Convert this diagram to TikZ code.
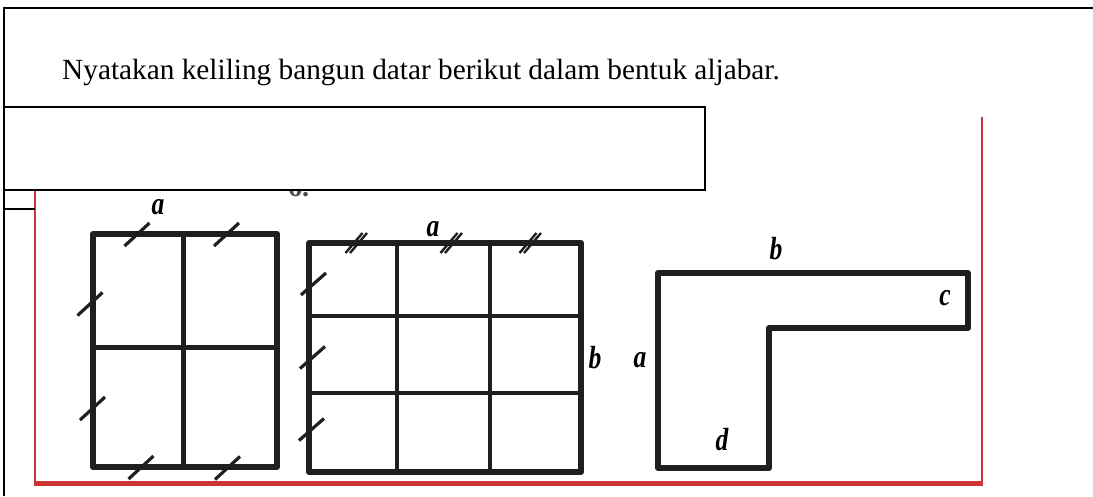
\documentclass[tikz,border=0pt]{standalone}
\usepackage{fontspec}
\setmainfont{Liberation Serif}
\definecolor{redc}{RGB}{205,52,52}
\begin{document}
\begin{tikzpicture}[x=1pt,y=-1pt,
  frame/.style={line width=2.2pt,black},
  redline/.style={line width=2.6pt,draw=redc},
  outline/.style={line width=6pt,line join=round,black!88},
  gridline/.style={line width=5pt,black!88},
  thingrid/.style={line width=3.2pt,black!88},
  tickmark/.style={line width=3.2pt,black!88},
  dtick/.style={line width=2.4pt,black!88},
  lbl/.style={font=\fontsize{32}{32}\selectfont\bfseries\itshape,inner sep=0pt,xscale=0.8},
  txt/.style={font=\fontsize{29.3}{29.3}\selectfont,inner sep=0pt,anchor=base west}]
\useasboundingbox (0,0) rectangle (1093,496);
\fill[white] (0,0) rectangle (1093,496);
% outer frame
\draw[frame] (4,496) -- (4,8) -- (1093,8);
\node[txt] (title) at (62,79) {Nyatakan keliling bangun datar berikut dalam bentuk aljabar.};
% red frame
\draw[redline] (35,190) -- (35,483);
\draw[redline] (982,117) -- (982,483);
\draw[line width=5pt,draw=redc] (34,483) -- (983.3,483);
% fragment under the box
\node[txt,font=\fontsize{28}{28}\selectfont\bfseries,text=black!70] (frag) at (288,196) {6.};
% white box
\draw[frame,fill=white] (4,107) rectangle (705,190);
\draw[frame] (4,209) -- (35,209);
% figure 1
\draw[gridline] (183,234) -- (183,467);
\draw[gridline] (93,347) -- (277,347);
\draw[outline] (93,234) rectangle (277,467);
\foreach \p in {(137,234.5),(226.5,234.5),(90,304),(92.5,408.5),(141,467.5),(227.5,468)}
  \draw[tickmark] \p ++(-12.5,11.5) -- ++(25,-23);
\node[lbl] (a1) at (158,207) {a};
% figure 2
\draw[thingrid] (397,243) -- (397,472) (490,243) -- (490,472);
\draw[thingrid] (309,316) -- (581,316) (309,393) -- (581,393);
\draw[outline] (309,243) rectangle (581,472);
\foreach \p in {(356.5,243),(451.5,243),(530.5,243)}{
  \draw[dtick] \p ++(-11,10) -- ++(17,-20);
  \draw[dtick] \p ++(-6.5,10) -- ++(17,-20);
}
\foreach \p in {(313.5,284),(312.5,357.5),(311.5,429.5)}
  \draw[tickmark] \p ++(-12.5,11) -- ++(25,-22);
\node[lbl] (a2) at (433,229) {a};
\node[lbl] (b2) at (595,358) {b};
% figure 3
\draw[outline] (658,273) -- (968,273) -- (968,328) -- (769,328) -- (769,468) -- (658,468) -- cycle;
\node[lbl] (b3) at (776,249) {b};
\node[lbl] (c3) at (945,298) {c};
\node[lbl] (a3) at (640,360) {a};
\node[lbl] (d3) at (722,440) {d};
\end{tikzpicture}
\end{document}
